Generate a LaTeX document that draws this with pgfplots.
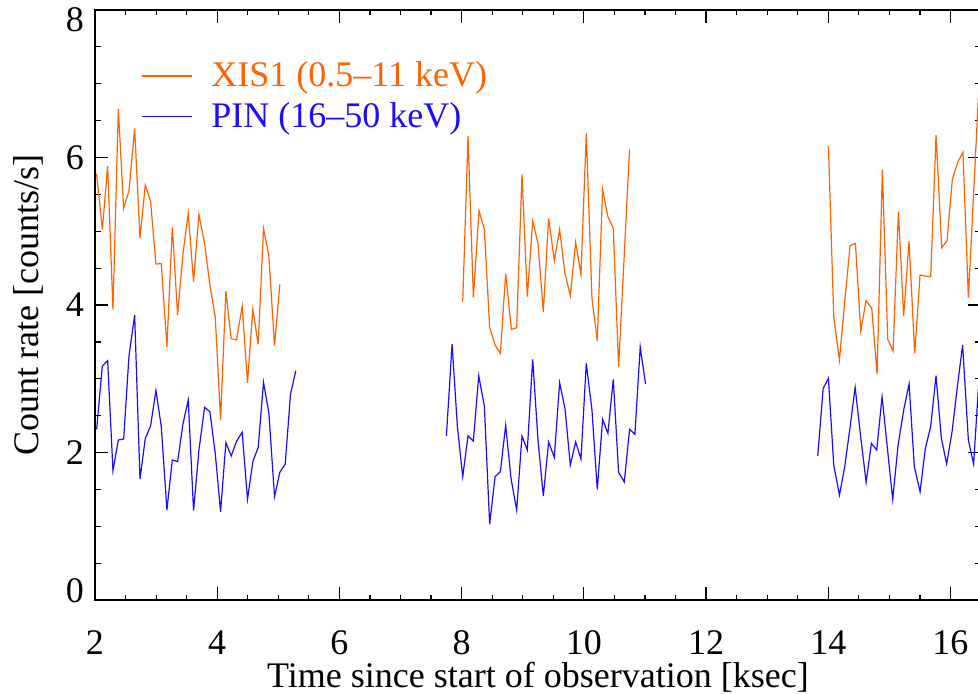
\documentclass[border=0pt]{standalone}
\usepackage{fontspec}
\setmainfont{Liberation Serif}
\usepackage{pgfplots}
\pgfplotsset{compat=1.18}
\definecolor{xisorange}{RGB}{255,98,0}
\definecolor{pinblue}{RGB}{28,12,255}
\newcommand{\bigfont}{\fontsize{18}{21.6}\selectfont}

\begin{document}
\begin{tikzpicture}
\begin{axis}[
  name=ax,
  scale only axis,
  width=443pt, height=295.2pt,
  xmin=2, xmax=16.5, ymin=0, ymax=8,
  xtick={2,4,...,16}, minor x tick num=3,
  ytick={0,2,...,8}, minor y tick num=3,
  yticklabels={\raisebox{5pt}[\height][\depth]{0},2,4,6,\raisebox{-5pt}[\height][\depth]{8}},
  tick align=inside,
  major tick length=6.5pt, minor tick length=2.8pt,
  axis line style={line width=0.9pt},
  tick style={black, line width=0.6pt},
  /pgf/number format/assume math mode=true,
  ticklabel style={font=\bigfont},
  xticklabel style={inner sep=1pt, yshift=-14pt},
  yticklabel style={xshift=-2pt},
  label style={font=\bigfont},
  xlabel={Time since start of observation [ksec]},
  xlabel style={at={(rel axis cs:0.5,0)}, anchor=base, inner sep=0pt, yshift=-43.5pt},
  ylabel={Count rate [counts/s]},
  ylabel style={at={(rel axis cs:-0.0643,0.5)}, anchor=base, inner sep=0pt},
  unbounded coords=jump,
  legend style={draw=none, fill=none, at={(0.045,0.926)}, anchor=north west,
    font=\bigfont, row sep=2.5pt,
    /tikz/every odd column/.append style={column sep=7.5pt}},
  legend image code/.code={\draw[#1] (0pt,0pt) -- (25pt,0pt);},
  legend cell align=left,
]
\addplot[xisorange, line width=0.6pt] table {
2.027 5.775
2.120 5.025
2.207 5.883
2.294 3.941
2.382 6.656
2.469 5.310
2.556 5.549
2.649 6.394
2.736 4.908
2.823 5.626
2.910 5.400
2.997 4.556
3.085 4.560
3.177 3.435
3.265 5.053
3.352 3.864
3.439 4.691
3.526 5.242
3.613 4.316
3.700 5.229
3.793 4.836
3.880 4.271
3.968 3.842
4.055 2.442
4.142 4.190
4.229 3.544
4.316 3.526
4.409 3.986
4.496 2.947
4.583 3.941
4.671 3.467
4.758 5.039
4.845 4.668
4.938 3.449
5.025 4.280
nan nan
8.018 4.045
8.105 6.290
8.192 4.104
8.285 5.278
8.372 5.025
8.459 3.697
8.547 3.458
8.634 3.345
8.721 4.429
8.814 3.670
8.901 3.693
8.988 5.771
9.075 4.113
9.163 5.138
9.250 4.836
9.337 3.909
9.424 5.174
9.517 4.605
9.604 5.025
9.691 4.429
9.779 4.126
9.866 4.849
9.953 4.416
10.040 6.326
10.133 4.090
10.220 3.512
10.307 5.567
10.394 5.197
10.482 5.039
10.569 3.164
10.749 6.110
nan nan
14.003 6.154
14.090 3.842
14.183 3.255
14.270 4.045
14.357 4.804
14.445 4.836
14.532 3.648
14.619 4.059
14.712 3.955
14.799 3.061
14.886 5.838
14.973 3.535
15.061 3.377
15.148 5.264
15.235 3.851
15.322 4.867
15.415 3.345
15.502 4.407
15.589 4.393
15.677 4.384
15.764 6.303
15.857 4.776
15.944 4.871
16.031 5.703
16.118 5.933
16.205 6.069
16.293 4.099
16.380 5.530
16.467 6.980
};
\addlegendentry{\textcolor{xisorange}{XIS1 (0.5–11 keV)}}
\addplot[pinblue, line width=0.6pt] table {
2.027 2.315
2.120 3.173
2.207 3.246
2.294 1.755
2.382 2.171
2.469 2.184
2.556 3.309
2.649 3.864
2.736 1.642
2.823 2.193
2.910 2.360
2.997 2.844
3.085 2.351
3.177 1.222
3.265 1.900
3.352 1.877
3.439 2.388
3.526 2.713
3.613 1.213
3.700 2.026
3.793 2.614
3.880 2.555
3.968 1.990
4.055 1.199
4.142 2.134
4.229 1.954
4.316 2.153
4.409 2.275
4.496 1.367
4.583 1.877
4.671 2.071
4.758 2.952
4.845 2.541
4.938 1.403
5.025 1.733
5.113 1.846
5.200 2.794
5.287 3.110
nan nan
7.751 2.225
7.844 3.472
7.931 2.351
8.018 1.674
8.105 2.229
8.192 2.157
8.280 3.042
8.372 2.631
8.459 1.028
8.547 1.674
8.634 1.741
8.721 2.370
8.808 1.652
8.901 1.222
8.988 2.225
9.075 2.035
9.163 3.264
9.250 2.171
9.337 1.412
9.424 2.144
9.517 1.936
9.604 2.947
9.691 2.600
9.779 1.832
9.866 2.144
9.953 1.913
10.040 3.210
10.133 2.577
10.220 1.502
10.307 2.451
10.394 2.261
10.482 2.993
10.569 1.733
10.662 1.602
10.749 2.316
10.836 2.248
10.923 3.430
11.010 2.930
nan nan
13.828 1.954
13.917 2.871
14.003 3.006
14.090 1.832
14.183 1.425
14.270 1.809
14.358 2.351
14.440 2.885
14.531 2.215
14.620 1.597
14.706 2.126
14.793 2.035
14.881 2.757
14.968 2.058
15.055 1.367
15.143 2.103
15.235 2.577
15.323 2.930
15.409 1.809
15.503 1.470
15.589 2.058
15.676 2.351
15.764 3.042
15.851 2.194
15.938 1.846
16.026 2.283
16.113 2.893
16.199 3.458
16.293 2.171
16.379 1.846
16.467 3.000
};
\addlegendentry{\textcolor{pinblue}{PIN (16–50 keV)}}
\end{axis}
% the reference image is cut just left of the right axis line
\pgfresetboundingbox
\useasboundingbox ([shift={(-47.5pt,-46.4pt)}]ax.south west)
  rectangle ([shift={(441.5pt,300.1pt)}]ax.south west);
\end{tikzpicture}
\end{document}
